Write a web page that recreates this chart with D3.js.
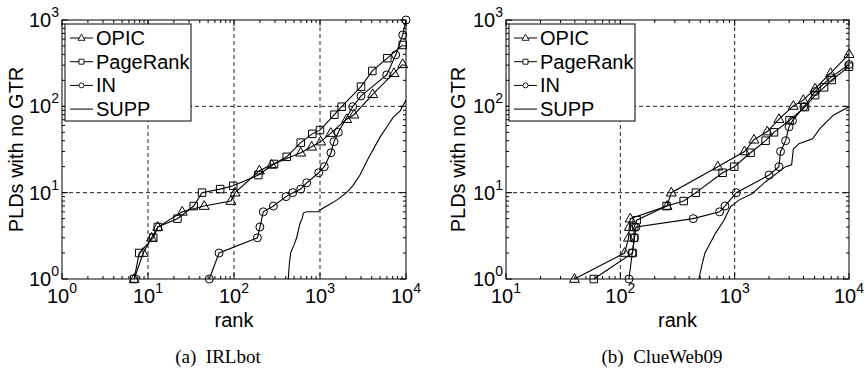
<!DOCTYPE html>
<html>
<head>
<meta charset="utf-8">
<script src="https://cdn.jsdelivr.net/npm/d3@7"></script>
<style>
  body { margin: 0; background: #fff; }
  svg { display: block; font-family: "Liberation Sans", Arial, sans-serif; }
  .caption { font-family: "Liberation Serif", "Times New Roman", serif; }
</style>
</head>
<body>
<svg id="chart" width="864" height="372"></svg>
<script>
// values, [rank, PLDs with no GTR]
const seriesNames = ['OPIC', 'PageRank', 'IN', 'SUPP'];
const seriesMarks = ['triangle', 'square', 'circle', 'none'];

const irlOpic = [[6.9, 1], [8.8, 2], [11, 3], [13, 4], [25, 6], [45, 7], [92, 8], [103, 10],
  [197, 18], [274, 21], [597, 29], [800, 34], [1018, 39], [1332, 49], [2044, 71], [2485, 80],
  [4100, 138], [7250, 242], [9160, 307]];
const irlPageRank = [[6.9, 1], [7.9, 2], [11.5, 3], [13, 4], [22, 5], [34, 7], [42.5, 10], [69, 11],
  [98, 12], [192, 16], [292, 21.5], [410, 26], [597, 38], [813, 48], [1000, 53], [1470, 80],
  [1787, 99], [3000, 169], [4060, 257], [6070, 361], [9160, 514]];
const irlIn = [[51.6, 1], [67, 2], [187, 3], [200, 4], [219, 6], [287, 7], [403, 9], [482, 10],
  [597, 11], [700, 13], [966, 17], [1122, 20], [1342, 29], [1455, 39], [1633, 50], [2400, 99],
  [3000, 132], [5970, 231], [7580, 394], [9160, 671], [10000, 1000]];
const irlSupp = [[428, 1], [440, 1.5], [456, 2], [500, 2.5], [535, 3], [585, 4.4], [620, 5],
  [640, 5.8], [700, 6], [955, 6], [1000, 6.3], [1200, 7], [1563, 8.2], [2040, 10], [2400, 12],
  [2917, 16], [3650, 25], [4990, 44], [6000, 58], [7120, 75], [8510, 88], [10000, 118]];

const cwOpic = [[39.7, 1], [109, 2], [118, 3], [120, 4], [122, 5], [256, 7], [279, 10], [712, 20],
  [1220, 30], [1475, 41], [1928, 51], [2440, 71], [3260, 101], [3980, 118], [5050, 160],
  [6900, 242], [10000, 402]];
const cwPageRank = [[58.6, 1], [128, 2], [132, 3], [132, 4], [139, 4.8], [254, 7], [358, 8],
  [458, 10], [784, 17], [990, 20], [1377, 29], [1864, 40], [2206, 50], [3020, 69], [4120, 98],
  [5050, 135], [6050, 166], [7060, 202], [10000, 288]];
const cwIn = [[119, 1], [127, 2], [133, 3], [137, 4], [434, 5], [738, 6], [823, 7], [1033, 10],
  [2000, 16], [2440, 20], [2520, 30], [2790, 40], [2990, 58], [3200, 68], [4030, 99],
  [5050, 148], [6900, 215], [10000, 305]];
const cwSupp = [[486, 1], [520, 1.5], [550, 2], [681, 3.4], [806, 4.8], [922, 6.9], [1092, 8.2],
  [1427, 9.8], [1865, 13.4], [2790, 20], [3150, 21], [3260, 32], [3650, 37], [4800, 42],
  [5600, 56], [7300, 79], [10000, 99]];

const xDecadesA = [0, 1, 2, 3, 4];
const xDecadesB = [1, 2, 3, 4];
const yDecades = [0, 1, 2, 3];
const xLabel = 'rank';
const yLabel = 'PLDs with no GTR';
const captions = ['(a)\u00a0 IRLbot', '(b)\u00a0 ClueWeb09'];

const svg = d3.select('#chart');

function markPath(kind, s) {
  if (kind === 'triangle') {
    const h = s * 0.87;
    return `M0,${-h * 0.62}L${s / 2},${h * 0.38}L${-s / 2},${h * 0.38}Z`;
  }
  if (kind === 'square') return `M${-s / 2},${-s / 2}h${s}v${s}h${-s}Z`;
  if (kind === 'circle') return d3.symbol(d3.symbolCircle, Math.PI * s * s / 4)();
  return null;
}

function drawPanel(cfg) {
  const x = d3.scaleLog().domain(cfg.xDomain).range([cfg.left, cfg.right]);
  const y = d3.scaleLog().domain([1, 1000]).range([279, 20]);
  const g = svg.append('g');
  const [top, bottom] = y.range().slice().reverse();

  // dashed grid at interior decades
  const xGrid = cfg.xDecades.map(d => 10 ** d).filter(v => v > cfg.xDomain[0] && v < cfg.xDomain[1]);
  const yGrid = yDecades.map(d => 10 ** d).filter(v => v > 1 && v < 1000);
  g.selectAll('.gx').data(xGrid).join('line')
    .attr('x1', d => x(d)).attr('x2', d => x(d)).attr('y1', top).attr('y2', bottom)
    .attr('stroke', '#222').attr('stroke-dasharray', '4,3');
  g.selectAll('.gy').data(yGrid).join('line')
    .attr('y1', d => y(d)).attr('y2', d => y(d)).attr('x1', cfg.left).attr('x2', cfg.right)
    .attr('stroke', '#222').attr('stroke-dasharray', '4,3');

  // inward ticks on all four sides
  const xMinor = [], yMinor = [];
  for (let d = cfg.xDecades[0]; d < cfg.xDecades[cfg.xDecades.length - 1]; d++)
    for (let k = 2; k < 10; k++) xMinor.push(k * 10 ** d);
  for (let d = 0; d < 3; d++)
    for (let k = 2; k < 10; k++) yMinor.push(k * 10 ** d);
  const ticks = g.append('g').attr('stroke', '#000').attr('stroke-width', 1);
  [[xMinor, 3], [cfg.xDecades.map(d => 10 ** d), 6]].forEach(([vals, len]) => {
    vals.forEach(v => {
      ticks.append('line').attr('x1', x(v)).attr('x2', x(v)).attr('y1', bottom).attr('y2', bottom - len);
      ticks.append('line').attr('x1', x(v)).attr('x2', x(v)).attr('y1', top).attr('y2', top + len);
    });
  });
  [[yMinor, 3], [yDecades.map(d => 10 ** d), 6]].forEach(([vals, len]) => {
    vals.forEach(v => {
      ticks.append('line').attr('y1', y(v)).attr('y2', y(v)).attr('x1', cfg.left).attr('x2', cfg.left + len);
      ticks.append('line').attr('y1', y(v)).attr('y2', y(v)).attr('x1', cfg.right).attr('x2', cfg.right - len);
    });
  });

  // series
  const line = d3.line().x(d => x(d[0])).y(d => y(d[1]));
  cfg.series.forEach((data, i) => {
    g.append('path').datum(data).attr('d', line)
      .attr('fill', 'none').attr('stroke', '#000').attr('stroke-width', 1.1);
    const p = markPath(seriesMarks[i], seriesMarks[i] === 'triangle' ? 10 : (seriesMarks[i] === 'square' ? 7.5 : 8));
    if (!p) return;
    g.selectAll(null).data(data).join('path')
      .attr('d', p)
      .attr('transform', d => `translate(${x(d[0])},${y(d[1])})`)
      .attr('fill', 'none').attr('stroke', '#000').attr('stroke-width', 1);
  });

  // frame
  g.append('rect').attr('x', cfg.left).attr('y', top)
    .attr('width', cfg.right - cfg.left).attr('height', bottom - top)
    .attr('fill', 'none').attr('stroke', '#000');

  // tick labels
  cfg.xDecades.forEach(d => {
    const t = g.append('text').attr('x', x(10 ** d)).attr('y', 303)
      .attr('text-anchor', 'middle').attr('font-size', 20);
    t.append('tspan').text('10');
    t.append('tspan').attr('dy', -10).attr('font-size', 14).text(d);
  });
  yDecades.forEach(d => {
    const t = g.append('text').attr('x', cfg.left - 3).attr('y', y(10 ** d) + 7)
      .attr('text-anchor', 'end').attr('font-size', 20);
    t.append('tspan').text('10');
    t.append('tspan').attr('dy', -10).attr('font-size', 14).text(d);
  });

  g.append('text').attr('x', (cfg.left + cfg.right) / 2).attr('y', 327)
    .attr('text-anchor', 'middle').attr('font-size', 20).text(xLabel);
  g.append('text')
    .attr('transform', `translate(${cfg.yLabelX},${(top + bottom) / 2}) rotate(-90)`)
    .attr('text-anchor', 'middle').attr('dy', 7).attr('font-size', 20).text(yLabel);
  g.append('text').attr('class', 'caption').attr('x', cfg.captionX).attr('y', 363)
    .attr('text-anchor', 'middle').attr('font-size', 19).text(cfg.caption);

  // legend
  const lg = g.append('g').attr('transform', `translate(${cfg.left + 3},24)`);
  lg.append('rect').attr('width', 126).attr('height', 97)
    .attr('fill', '#fff').attr('stroke', '#000');
  seriesNames.forEach((name, i) => {
    const ry = 14 + i * 23.7;
    lg.append('line').attr('x1', 5).attr('x2', 28).attr('y1', ry).attr('y2', ry).attr('stroke', '#000');
    const p = markPath(seriesMarks[i], seriesMarks[i] === 'triangle' ? 7 : 5);
    if (p) lg.append('path').attr('d', p).attr('transform', `translate(16.5,${ry})`)
      .attr('fill', '#fff').attr('stroke', '#000').attr('stroke-width', 0.9);
    lg.append('text').attr('x', 31).attr('y', ry + 7).attr('font-size', 20).text(name);
  });
}

drawPanel({
  left: 62, right: 406, xDomain: [1, 1e4], xDecades: xDecadesA,
  series: [irlOpic, irlPageRank, irlIn, irlSupp],
  yLabelX: 16, captionX: 218, caption: captions[0]
});
drawPanel({
  left: 506, right: 849, xDomain: [10, 1e4], xDecades: xDecadesB,
  series: [cwOpic, cwPageRank, cwIn, cwSupp],
  yLabelX: 458, captionX: 662, caption: captions[1]
});
</script>
</body>
</html>
